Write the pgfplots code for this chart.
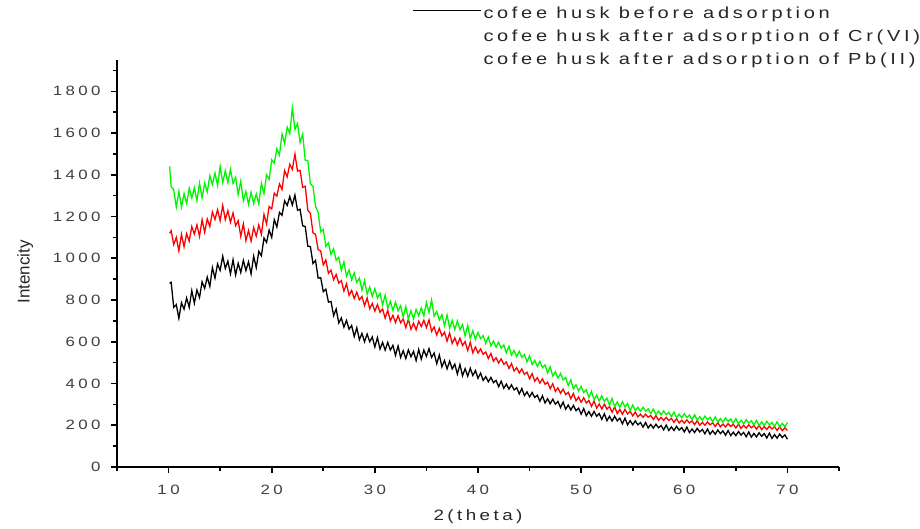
\documentclass[border=0pt]{standalone}
\usepackage{pgfplots}
\pgfplotsset{compat=1.18}
\usepackage{fontspec}
\setmainfont{Liberation Sans}
\newfontfamily\wfont{Liberation Sans}[FakeStretch=1.25,LetterSpace=23]
\newfontfamily\tfont{Liberation Sans}[FakeStretch=1.25,LetterSpace=25]
\definecolor{cgreen}{RGB}{0,245,0}
\definecolor{cred}{RGB}{255,0,0}
\begin{document}
\begin{tikzpicture}
\path[use as bounding box] (0,0) rectangle (920pt,529pt);
\begin{axis}[
  at={(117pt,62pt)}, anchor=south west,
  scale only axis, width=722pt, height=407pt,
  xmin=5, xmax=75, ymin=0, ymax=1950,
  axis x line*=bottom, axis y line*=left,
  axis line style={line width=1.6pt},
  tick align=outside,
  xtick={10,20,...,70}, minor xtick={5,15,...,75},
  ytick={0,200,...,1800}, minor ytick={100,300,...,1900},
  major tick length=6pt, minor tick length=4pt,
  every tick/.style={line width=1.6pt, black},
  /pgf/number format/assume math mode=true,
  /pgf/number format/1000 sep={},
  ticklabel style={font=\tfont\fontsize{13.5}{15}\selectfont, text=black!75},
  xticklabel style={yshift=-9pt},
  yticklabel style={xshift=-7pt},
  xlabel={2(theta)}, ylabel={Intencity},
  xlabel style={font=\wfont\fontsize{15}{17}\selectfont, text=black!85, at={(axis description cs:0.5,-0.123)}, anchor=center},
  ylabel style={font=\fontsize{17}{19}\selectfont, text=black!85, at={(axis description cs:-0.127,0.479)}, anchor=center},
  legend style={draw=none, fill=none, at={(axis description cs:0.4086,1.1266)}, anchor=north west,
    font=\wfont\fontsize{16}{18}\selectfont, text=black!85, row sep=11pt, inner sep=0pt,
    nodes={inner sep=0pt, text height=10pt, text depth=2pt},
    /tikz/every odd column/.style={column sep=2pt}},
  legend cell align=left,
  legend image code/.code={\draw[#1] (0pt,4.3pt) -- (68pt,4.3pt);},
]
\addplot[black, line width=1.3pt] coordinates {(10.1,880)(10.25,885)(10.5,765)(10.75,778)(11,712)(11.25,787)(11.5,756)(11.75,810)(12,765)(12.25,845)(12.5,785)(12.75,848)(13,812)(13.25,887)(13.5,856)(13.75,910)(14,865)(14.25,955)(14.5,905)(14.75,973)(15,942)(15.25,1010)(15.5,951)(15.75,987)(16,925)(16.25,993)(16.5,920)(16.75,976)(17,932)(17.25,990)(17.5,941)(17.75,983)(18,925)(18.25,1010)(18.5,955)(18.75,1033)(19,1012)(19.25,1097)(19.5,1076)(19.75,1135)(20,1100)(20.25,1185)(20.5,1150)(20.75,1220)(21,1206)(21.25,1275)(21.5,1253)(21.75,1296)(22,1255)(22.25,1303)(22.5,1230)(22.75,1235)(23,1156)(23.25,1152)(23.5,1058)(23.75,1056)(24,975)(24.25,990)(24.5,905)(24.75,907)(25,840)(25.25,852)(25.5,790)(25.75,793)(26,725)(26.25,757)(26.5,690)(26.75,714)(27,670)(27.25,702)(27.5,660)(27.75,678)(28,625)(28.25,667)(28.5,610)(28.75,640)(29,600)(29.25,637)(29.5,600)(29.75,623)(30,575)(30.25,620)(30.5,565)(30.75,597)(31,560)(31.25,597)(31.5,560)(31.75,583)(32,535)(32.25,580)(32.5,525)(32.75,557)(33,520)(33.25,561)(33.5,528)(33.75,554)(34,510)(34.25,563)(34.5,517)(34.75,560)(35,530)(35.25,567)(35.5,525)(35.75,546)(36,495)(36.25,537)(36.5,480)(36.75,510)(37,470)(37.25,507)(37.5,470)(37.75,493)(38,445)(38.25,491)(38.5,437)(38.75,471)(39,435)(39.25,473)(39.5,438)(39.75,462)(40,425)(40.25,450)(40.5,415)(40.75,433)(41,408)(41.25,429)(41.5,404)(41.75,415)(42,385)(42.25,411)(42.5,377)(42.75,397)(43,373)(43.25,394)(43.5,369)(43.75,380)(44,350)(44.25,376)(44.5,342)(44.75,360)(45,336)(45.25,357)(45.5,333)(45.75,344)(46,315)(46.25,341)(46.5,307)(46.75,327)(47,303)(47.25,325)(47.5,301)(47.75,314)(48,285)(48.25,311)(48.5,277)(48.75,297)(49,273)(49.25,295)(49.5,270)(49.75,282)(50,253)(50.25,280)(50.5,246)(50.75,266)(51,243)(51.25,266)(51.5,243)(51.75,256)(52,228)(52.25,255)(52.5,222)(52.75,243)(53,220)(53.25,243)(53.5,221)(53.75,234)(54,207)(54.25,234)(54.5,202)(54.75,222)(55,202)(55.25,221)(55.5,202)(55.75,213)(56,191)(56.25,213)(56.5,187)(56.75,204)(57,186)(57.25,205)(57.5,188)(57.75,199)(58,178)(58.25,201)(58.5,175)(58.75,192)(59,175)(59.25,195)(59.5,177)(59.75,189)(60,168)(60.25,191)(60.5,165)(60.75,182)(61,165)(61.25,185)(61.5,168)(61.75,180)(62,159)(62.25,182)(62.5,157)(62.75,174)(63,157)(63.25,177)(63.5,160)(63.75,173)(64,152)(64.25,175)(64.5,150)(64.75,167)(65,150)(65.25,170)(65.5,153)(65.75,166)(66,145)(66.25,168)(66.5,143)(66.75,161)(67,144)(67.25,164)(67.5,147)(67.75,160)(68,139)(68.25,162)(68.5,137)(68.75,155)(69,138)(69.25,158)(69.5,141)(69.75,154)(70,133)};
\addplot[cred, line width=1.3pt, forget plot] coordinates {(10.1,1120)(10.25,1132)(10.5,1066)(10.75,1100)(11,1035)(11.25,1115)(11.5,1055)(11.75,1118)(12,1082)(12.25,1152)(12.5,1116)(12.75,1160)(13,1105)(13.25,1185)(13.5,1125)(13.75,1188)(14,1152)(14.25,1222)(14.5,1186)(14.75,1233)(15,1180)(15.25,1253)(15.5,1185)(15.75,1228)(16,1172)(16.25,1217)(16.5,1156)(16.75,1180)(17,1105)(17.25,1165)(17.5,1085)(17.75,1133)(18,1082)(18.25,1147)(18.5,1106)(18.75,1160)(19,1115)(19.25,1210)(19.5,1165)(19.75,1248)(20,1236)(20.25,1312)(20.5,1298)(20.75,1356)(21,1330)(21.25,1420)(21.5,1390)(21.75,1450)(22,1426)(22.25,1500)(22.5,1418)(22.75,1421)(23,1340)(23.25,1345)(23.5,1230)(23.75,1215)(24,1122)(24.25,1115)(24.5,1041)(24.75,1035)(25,968)(25.25,992)(25.5,928)(25.75,943)(26,897)(26.25,922)(26.5,881)(26.75,893)(27,843)(27.25,877)(27.5,823)(27.75,846)(28,807)(28.25,838)(28.5,801)(28.75,817)(29,773)(29.25,810)(29.5,758)(29.75,783)(30,747)(30.25,778)(30.5,741)(30.75,757)(31,713)(31.25,751)(31.5,700)(31.75,727)(32,692)(32.25,725)(32.5,691)(32.75,710)(33,668)(33.25,708)(33.5,660)(33.75,689)(34,657)(34.25,698)(34.5,673)(34.75,703)(35,668)(35.25,705)(35.5,650)(35.75,671)(36,632)(36.25,664)(36.5,628)(36.75,646)(37,603)(37.25,642)(37.5,592)(37.75,619)(38,585)(38.25,617)(38.5,582)(38.75,601)(39,558)(39.25,597)(39.5,547)(39.75,575)(40,546)(40.25,566)(40.5,540)(40.75,551)(41,520)(41.25,544)(41.5,507)(41.75,524)(42,498)(42.25,518)(42.5,492)(42.75,503)(43,472)(43.25,496)(43.5,460)(43.75,476)(44,450)(44.25,470)(44.5,444)(44.75,454)(45,423)(45.25,447)(45.5,411)(45.75,428)(46,402)(46.25,422)(46.5,396)(46.75,406)(47,375)(47.25,399)(47.5,362)(47.75,379)(48,353)(48.25,373)(48.5,347)(48.75,358)(49,327)(49.25,352)(49.5,317)(49.75,335)(50,310)(50.25,332)(50.5,307)(50.75,319)(51,290)(51.25,316)(51.5,282)(51.75,302)(52,278)(52.25,301)(52.5,277)(52.75,290)(53,262)(53.25,289)(53.5,256)(53.75,276)(54,253)(54.25,276)(54.5,254)(54.75,267)(55,245)(55.25,263)(55.5,240)(55.75,253)(56,238)(56.25,253)(56.5,238)(56.75,247)(57,228)(57.25,246)(57.5,224)(57.75,238)(58,223)(58.25,238)(58.5,223)(58.75,233)(59,214)(59.25,232)(59.5,211)(59.75,224)(60,210)(60.25,226)(60.5,211)(60.75,221)(61,203)(61.25,222)(61.5,200)(61.75,214)(62,200)(62.25,216)(62.5,202)(62.75,212)(63,194)(63.25,213)(63.5,192)(63.75,206)(64,192)(64.25,208)(64.5,194)(64.75,205)(65,187)(65.25,206)(65.5,185)(65.75,200)(66,186)(66.25,202)(66.5,188)(66.75,199)(67,181)(67.25,200)(67.5,179)(67.75,194)(68,180)(68.25,196)(68.5,182)(68.75,193)(69,175)(69.25,194)(69.5,174)(69.75,188)(70,175)};
\addplot[cgreen, line width=1.3pt, forget plot] coordinates {(10.1,1440)(10.25,1344)(10.5,1328)(10.75,1245)(11,1320)(11.25,1245)(11.5,1310)(11.75,1263)(12,1336)(12.25,1289)(12.5,1338)(12.75,1275)(13,1360)(13.25,1290)(13.5,1360)(13.75,1318)(14,1396)(14.25,1354)(14.5,1408)(14.75,1350)(15,1440)(15.25,1362)(15.5,1420)(15.75,1363)(16,1426)(16.25,1359)(16.5,1388)(16.75,1305)(17,1370)(17.25,1275)(17.5,1320)(17.75,1258)(18,1316)(18.25,1262)(18.5,1308)(18.75,1260)(19,1360)(19.25,1310)(19.5,1400)(19.75,1378)(20,1472)(20.25,1456)(20.5,1525)(20.75,1495)(21,1595)(21.25,1550)(21.5,1628)(21.75,1597)(22,1720)(22.25,1618)(22.5,1645)(22.75,1555)(23,1595)(23.25,1470)(23.5,1468)(23.75,1357)(24,1345)(24.25,1249)(24.5,1220)(24.75,1127)(25,1138)(25.25,1057)(25.5,1074)(25.75,1018)(26,1045)(26.25,991)(26.5,1005)(26.75,942)(27,983)(27.25,914)(27.5,944)(27.75,896)(28,930)(28.25,884)(28.5,905)(28.75,847)(29,893)(29.25,828)(29.5,862)(29.75,817)(30,855)(30.25,810)(30.5,832)(30.75,776)(31,823)(31.25,760)(31.5,794)(31.75,750)(32,790)(32.25,748)(32.5,772)(32.75,718)(33,768)(33.25,709)(33.5,749)(33.75,710)(34,755)(34.25,724)(34.5,762)(34.75,724)(35,788)(35.25,740)(35.5,800)(35.75,723)(36,745)(36.25,704)(36.5,730)(36.75,677)(37,728)(37.25,666)(37.5,702)(37.75,659)(38,700)(38.25,658)(38.5,682)(38.75,628)(39,678)(39.25,616)(39.5,653)(39.75,611)(40,644)(40.25,615)(40.5,629)(40.75,593)(41,623)(41.25,581)(41.5,603)(41.75,574)(42,598)(42.25,569)(42.5,584)(42.75,547)(43,578)(43.25,536)(43.5,558)(43.75,529)(44,554)(44.25,525)(44.5,539)(44.75,503)(45,533)(45.25,491)(45.5,511)(45.75,482)(46,506)(46.25,476)(46.5,489)(46.75,451)(47,480)(47.25,436)(47.5,456)(47.75,426)(48,448)(48.25,417)(48.5,429)(48.75,390)(49,418)(49.25,374)(49.5,394)(49.75,364)(50,386)(50.25,357)(50.5,370)(50.75,333)(51,363)(51.25,322)(51.5,344)(51.75,316)(52,341)(52.25,314)(52.5,330)(52.75,296)(53,328)(53.25,289)(53.5,312)(53.75,286)(54,313)(54.25,287)(54.5,304)(54.75,270)(55,297)(55.25,270)(55.5,286)(55.75,267)(56,286)(56.25,268)(56.5,278)(56.75,256)(57,278)(57.25,252)(57.5,268)(57.75,250)(58,269)(58.25,251)(58.5,262)(58.75,241)(59,263)(59.25,237)(59.5,253)(59.75,236)(60,255)(60.25,237)(60.5,249)(60.75,227)(61,250)(61.25,225)(61.5,241)(61.75,224)(62,244)(62.25,227)(62.5,238)(62.75,217)(63,240)(63.25,215)(63.5,232)(63.75,215)(64,235)(64.25,218)(64.5,230)(64.75,209)(65,232)(65.25,207)(65.5,224)(65.75,207)(66,227)(66.25,210)(66.5,222)(66.75,201)(67,224)(67.25,199)(67.5,216)(67.75,199)(68,219)(68.25,202)(68.5,214)(68.75,194)(69,217)(69.25,192)(69.5,209)(69.75,193)(70,213)};
\addlegendimage{empty legend}
\addlegendimage{empty legend}
\legend{cofee husk before adsorption, cofee husk after adsorption of Cr(VI), cofee husk after adsorption of Pb(II)}
\end{axis}
\end{tikzpicture}
\end{document}
